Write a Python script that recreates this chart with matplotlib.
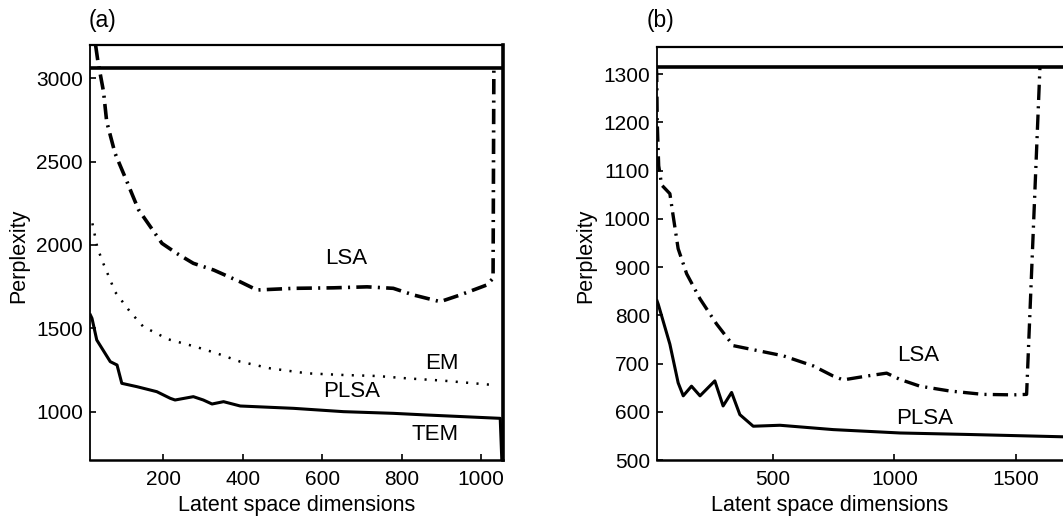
import numpy as np
import matplotlib
matplotlib.use("Agg")
import matplotlib.pyplot as plt
from matplotlib import rcParams

rcParams.update({
    "font.family": ["Liberation Sans", "DejaVu Sans"],
    "font.size": 14,
    "lines.scale_dashes": False,
    "xtick.direction": "in",
    "ytick.direction": "in",
})

# ---- panel (a) data ----
a_lsa_x = [30, 36, 50, 58, 79, 109, 121, 138, 197, 234, 276, 327, 394, 436, 528, 628,
           713, 779, 830, 897, 947, 1014, 1030, 1032]
a_lsa_y = [3200, 3100, 2920, 2740, 2550, 2380, 2310, 2212, 2010, 1950, 1890, 1850, 1779,
           1730, 1740, 1743, 1749, 1740, 1700, 1660, 1700, 1760, 1800, 3060]

a_em_x = [22, 34, 46, 67, 79, 117, 150, 213, 281, 335, 394, 469, 562, 654, 738, 813, 905, 1031]
a_em_y = [2130, 1990, 1909, 1790, 1719, 1599, 1510, 1434, 1390, 1350, 1300, 1260, 1230,
          1220, 1214, 1200, 1186, 1160]

a_tem_x = [17, 21, 33, 67, 84, 96, 134, 184, 218, 230, 276, 301, 323, 352, 394, 528, 654,
           779, 863, 1048, 1052]
a_tem_y = [1580, 1560, 1430, 1300, 1280, 1170, 1150, 1120, 1080, 1070, 1090, 1070, 1046,
           1060, 1034, 1020, 1000, 990, 980, 960, 710]

a_top = 3060

# ---- panel (b) data ----
b_lsa_x = [20, 22, 24, 30, 42, 76, 88, 110, 145, 200, 268, 337, 405, 542, 666, 748, 789,
           886, 968, 1023, 1105, 1228, 1365, 1489, 1544, 1599]
b_lsa_y = [1315, 1300, 1200, 1110, 1070, 1052, 1011, 938, 886, 834, 782, 737, 730, 716,
           695, 674, 666, 674, 680, 667, 653, 643, 636, 635, 636, 1315]

b_plsa_x = [23, 28, 76, 110, 131, 165, 200, 261, 295, 330, 364, 419, 529, 748, 1023, 1297, 1702]
b_plsa_y = [830, 823, 740, 660, 633, 653, 633, 664, 612, 640, 594, 570, 572, 563, 556, 553, 548]

b_top = 1315

W, H = 1063, 521
fig = plt.figure(figsize=(W / 100, H / 100), dpi=100)

ax1 = fig.add_axes([90 / W, (H - 460) / H, 413 / W, 415 / H])
ax2 = fig.add_axes([657 / W, (H - 460) / H, 408 / W, 413 / H])

dashdot = (0, (11, 4.5, 1.5, 4.5))

# panel (a)
ax1.axhline(a_top, color="black", lw=2.6)
ax1.plot(a_lsa_x, a_lsa_y, color="black", lw=2.6, linestyle=dashdot)
ax1.plot(a_em_x, a_em_y, color="black", lw=1.8, linestyle=(0, (1.5, 6)))
ax1.plot(a_tem_x, a_tem_y, color="black", lw=2.2)
ax1.set_xlim(16, 1055)
ax1.set_ylim(710, 3200)
ax1.set_xticks([200, 400, 600, 800, 1000])
ax1.set_yticks([1000, 1500, 2000, 2500, 3000])

ax1.text(660, 1921, "LSA", ha="center", va="center", fontsize=16)
ax1.text(901, 1290, "EM", ha="center", va="center", fontsize=16)
ax1.text(675, 1120, "PLSA", ha="center", va="center", fontsize=16)
ax1.text(884, 860, "TEM", ha="center", va="center", fontsize=16)

# panel (b)
ax2.axhline(b_top, color="black", lw=2.6)
ax2.plot(b_lsa_x, b_lsa_y, color="black", lw=2.4, linestyle=dashdot)
ax2.plot(b_plsa_x, b_plsa_y, color="black", lw=2.2)
ax2.set_xlim(23, 1702)
ax2.set_ylim(500, 1356)
ax2.set_xticks([500, 1000, 1500])
ax2.set_yticks([500, 600, 700, 800, 900, 1000, 1100, 1200, 1300])

ax2.text(1098, 716, "LSA", ha="center", va="center", fontsize=16)
ax2.text(1125, 587, "PLSA", ha="center", va="center", fontsize=16)

for ax in (ax1, ax2):
    ax.tick_params(length=4, width=1.2, labelsize=15)
    ax.tick_params(axis="x", pad=7)
    ax.tick_params(axis="y", pad=5)
    ax.spines["left"].set_linewidth(1.3)
    ax.spines["top"].set_linewidth(1.6)
    ax.spines["bottom"].set_linewidth(1.8)
    ax.spines["right"].set_linewidth(2.6)
    ax.set_xlabel("Latent space dimensions", fontsize=15.5, va="center")
    ax.set_ylabel("Perplexity", fontsize=15.5, va="center")

ax1.xaxis.set_label_coords((297 - 90) / 413, (460 - 505) / 415)
ax1.yaxis.set_label_coords((18.5 - 90) / 413, (460 - 256) / 415)
ax2.xaxis.set_label_coords((830 - 657) / 408, (460 - 505) / 413)
ax2.yaxis.set_label_coords((586 - 657) / 408, (460 - 256) / 413)

fig.text(103 / W, 1 - 21 / H, "(a)", ha="center", va="center", fontsize=16.5)
fig.text(660 / W, 1 - 21 / H, "(b)", ha="center", va="center", fontsize=16.5)

plt.savefig("out.png", dpi=100)
plt.close()
